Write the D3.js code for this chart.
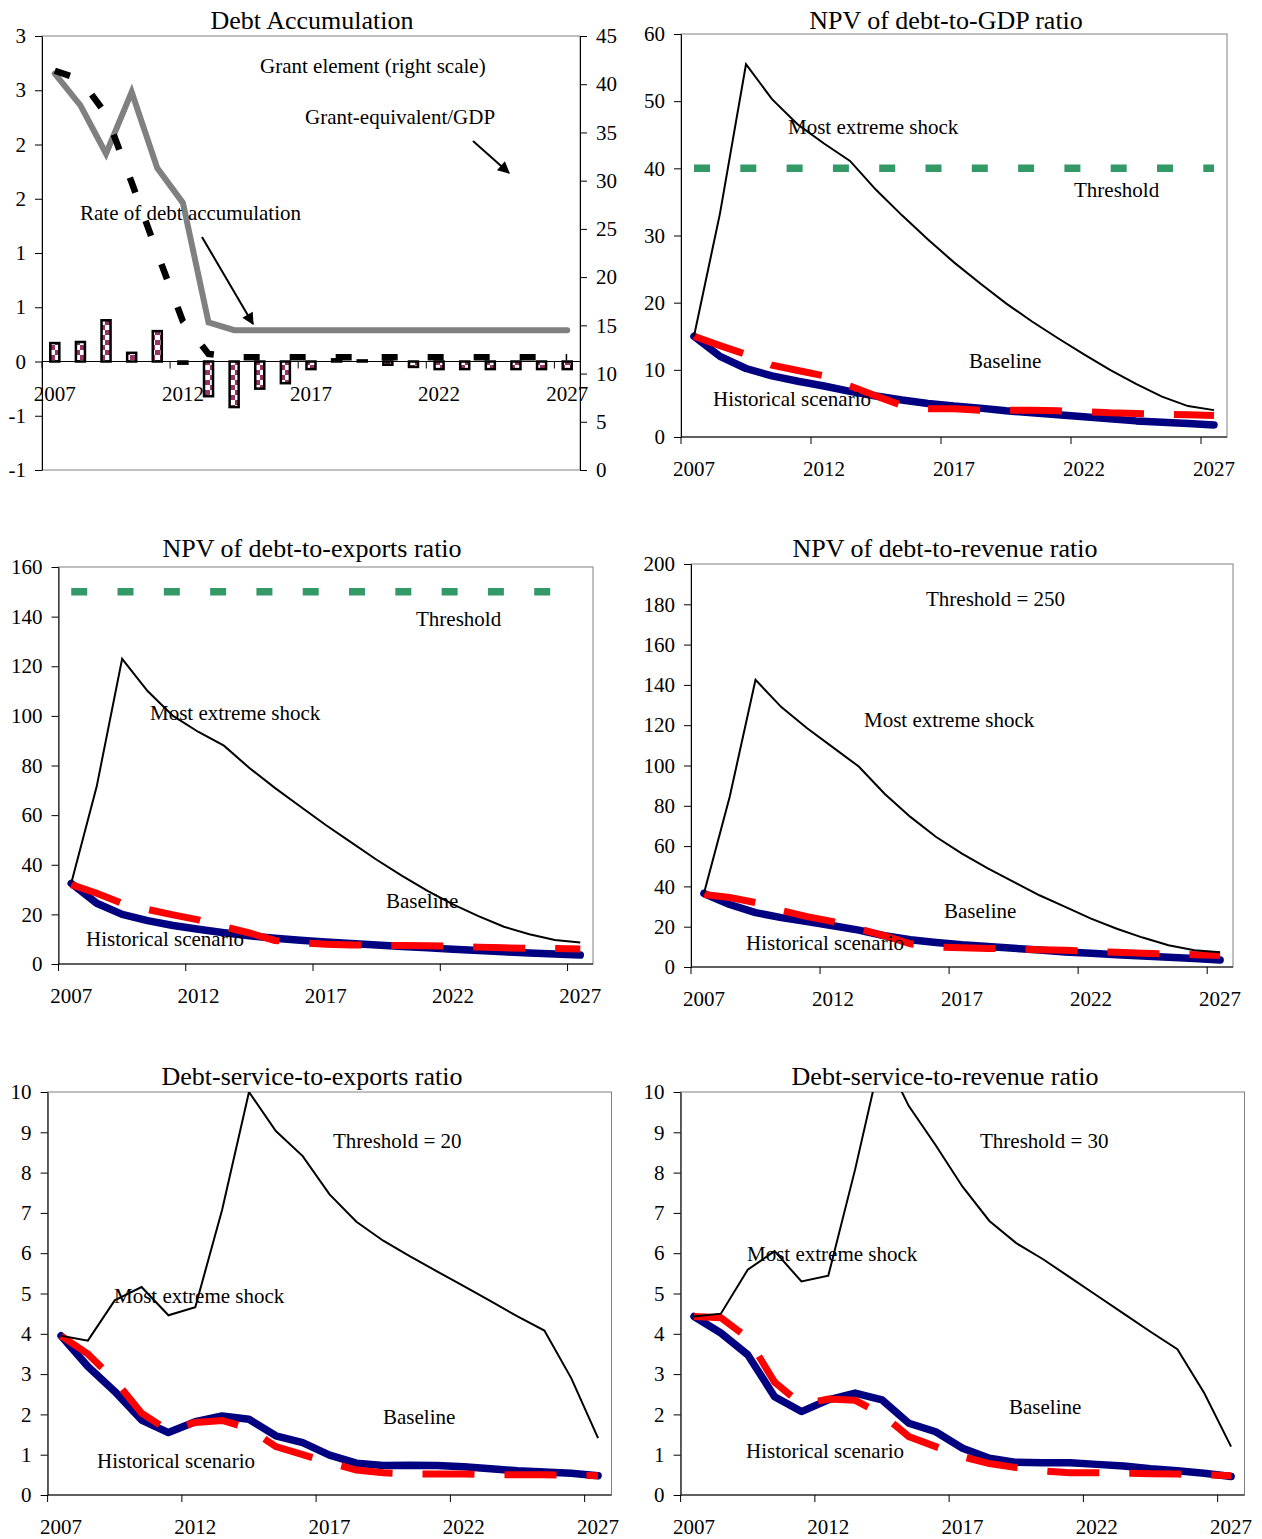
<!DOCTYPE html>
<html>
<head>
<meta charset="utf-8">
<script src="https://cdn.jsdelivr.net/npm/d3@7"></script>
<style>
  body { margin: 0; background: #fff; }
  text { font-family: "Liberation Serif", "Times New Roman", serif; fill: #000; }
</style>
</head>
<body>
<div id="chart"></div>
<script>
// categories
var years = [2007, 2008, 2009, 2010, 2011, 2012, 2013, 2014, 2015, 2016, 2017,
             2018, 2019, 2020, 2021, 2022, 2023, 2024, 2025, 2026, 2027];
var labelYears = [2007, 2012, 2017, 2022, 2027];

// Debt accumulation (left scale: bars + dashed line, right scale: grant element)
var debtAccumRate = [0.17, 0.18, 0.38, 0.08, 0.28, -0.02, -0.32, -0.42, -0.25, -0.2, -0.07,
                     0.02, 0.01, -0.03, -0.05, -0.07, -0.07, -0.07, -0.07, -0.07, -0.07];
var grantEquivGdp = [2.68, 2.6, 2.28, 1.65, 1.0, 0.37, 0.07, 0.04, 0.04, 0.04, 0.04,
                     0.04, 0.04, 0.04, 0.04, 0.04, 0.04, 0.04, 0.04, 0.04, 0.04];
var grantElement = [41.1, 37.8, 32.8, 39.2, 31.3, 27.7, 15.3, 14.5, 14.5, 14.5, 14.5,
                    14.5, 14.5, 14.5, 14.5, 14.5, 14.5, 14.5, 14.5, 14.5, 14.5];
var accumTicks = [-1, -0.5, 0, 0.5, 1, 1.5, 2, 2.5, 3];
var grantTicks = [0, 5, 10, 15, 20, 25, 30, 35, 40, 45];

// NPV of debt-to-GDP ratio
var gdpShock = [15, 33.3, 55.5, 50.3, 46.5, 43.7, 41.1, 36.8, 33, 29.4, 26,
                22.9, 19.9, 17.2, 14.7, 12.3, 10, 7.9, 6, 4.6, 4.0];
var gdpBaseline = [15, 12, 10.2, 9.1, 8.3, 7.6, 6.8, 6.1, 5.5, 5.0, 4.6,
                   4.3, 3.9, 3.6, 3.3, 3.0, 2.7, 2.4, 2.2, 2.0, 1.8];
var gdpHistorical = [15, 13.6, 12.3, 10.7, 9.9, 9.1, 7.6, 6.1, 4.7, 4.2, 4.2,
                     4.0, 4.0, 4.0, 3.9, 3.8, 3.6, 3.5, 3.4, 3.3, 3.2];
var gdpThreshold = 40;
var gdpTicks = [0, 10, 20, 30, 40, 50, 60];

// NPV of debt-to-exports ratio
var expShock = [32.5, 71.5, 123, 110, 100, 93.5, 88, 79, 71, 63.5, 56,
                49, 42, 35.5, 29.5, 24, 19.3, 15, 12, 9.7, 8.7];
var expBaseline = [32.5, 24.5, 20, 17.5, 15.5, 14, 12.6, 11.4, 10.4, 9.6, 8.9,
                   8.3, 7.7, 7.1, 6.5, 5.9, 5.4, 4.9, 4.4, 4.0, 3.6];
var expHistorical = [32, 28.5, 24.5, 22, 19.8, 17.8, 15, 12.5, 9.5, 8.5, 8.0,
                     7.7, 7.5, 7.5, 7.4, 7.2, 6.8, 6.5, 6.3, 6.2, 6.0];
var expThreshold = 150;
var expTicks = [0, 20, 40, 60, 80, 100, 120, 140, 160];

// NPV of debt-to-revenue ratio
var revShock = [36.5, 84.5, 142.5, 129, 118.5, 109, 99.5, 86, 74.5, 64.5, 56.3,
                49, 42.3, 35.6, 29.8, 24, 19, 14.6, 10.8, 8.3, 7.3];
var revBaseline = [36.5, 31, 27, 24.5, 22.5, 20.5, 18.3, 15.5, 13.5, 12.2, 11,
                   10.2, 9.3, 8.4, 7.5, 6.8, 6.1, 5.4, 4.8, 4.2, 3.5];
var revHistorical = [36, 34.5, 32, 28, 25, 22.5, 19, 15.5, 11.5, 10, 9.5,
                     9.2, 9, 8.6, 8.3, 7.8, 7.3, 6.8, 6.4, 6.1, 5.8];
var revTicks = [0, 20, 40, 60, 80, 100, 120, 140, 160, 180, 200];

// Debt-service-to-exports ratio
var dsExpShock = [3.95, 3.83, 4.83, 5.16, 4.46, 4.66, 7.08, 10.0, 9.03, 8.41, 7.46,
                  6.78, 6.31, 5.92, 5.55, 5.18, 4.81, 4.43, 4.08, 2.9, 1.41];
var dsExpBaseline = [3.95, 3.19, 2.57, 1.86, 1.55, 1.82, 1.96, 1.88, 1.47, 1.30, 0.99,
                     0.79, 0.73, 0.74, 0.73, 0.70, 0.65, 0.60, 0.57, 0.54, 0.48];
var dsExpHistorical = [3.95, 3.5, 2.85, 2.03, 1.6, 1.8, 1.85, 1.65, 1.2, 1.0, 0.8,
                       0.62, 0.55, 0.52, 0.52, 0.52, 0.5, 0.5, 0.5, 0.49, 0.48];

// Debt-service-to-revenue ratio
var dsRevShock = [4.43, 4.5, 5.59, 6.05, 5.3, 5.44, 8.08, 11.0, 9.65, 8.68, 7.65,
                  6.8, 6.25, 5.85, 5.4, 4.95, 4.5, 4.05, 3.62, 2.53, 1.2];
var dsRevBaseline = [4.43, 4.02, 3.48, 2.44, 2.07, 2.36, 2.53, 2.36, 1.78, 1.57, 1.16,
                     0.91, 0.81, 0.8, 0.8, 0.76, 0.72, 0.65, 0.6, 0.54, 0.46];
var dsRevHistorical = [4.43, 4.4, 3.9, 2.8, 2.25, 2.38, 2.35, 2.0, 1.45, 1.2, 0.95,
                       0.78, 0.68, 0.6, 0.55, 0.55, 0.54, 0.53, 0.52, 0.5, 0.48];
var dsTicks = [0, 1, 2, 3, 4, 5, 6, 7, 8, 9, 10];

var svg = d3.select("#chart")
  .append("svg")
  .attr("width", 1262)
  .attr("height", 1539);

var defs = svg.append("defs");

// checkered fill for the debt accumulation bars
var pat = defs.append("pattern")
  .attr("id", "checks")
  .attr("patternUnits", "userSpaceOnUse")
  .attr("width", 10)
  .attr("height", 10);
pat.append("rect").attr("width", 10).attr("height", 10).attr("fill", "#993366");
pat.append("rect").attr("width", 5).attr("height", 5).attr("fill", "#fff");
pat.append("rect").attr("x", 5).attr("y", 5).attr("width", 5).attr("height", 5).attr("fill", "#fff");

defs.append("marker")
  .attr("id", "arrow")
  .attr("viewBox", "0 0 10 10")
  .attr("refX", 9)
  .attr("refY", 5)
  .attr("markerWidth", 7.5)
  .attr("markerHeight", 6)
  .attr("orient", "auto")
  .append("path")
  .attr("d", "M0,0L10,5L0,10z")
  .attr("fill", "#000");

function addText(g, str, x, y, size, anchor) {
  return g.append("text")
    .attr("x", x)
    .attr("y", y)
    .attr("font-size", size)
    .attr("text-anchor", anchor || "start")
    .text(str);
}

// frame, y axis, x ticks and labels for one panel
function drawFrame(g, box, x, y, ticks, zeroY) {
  g.append("rect")
    .attr("x", box.left).attr("y", box.top)
    .attr("width", box.right - box.left).attr("height", box.bottom - box.top)
    .attr("fill", "none").attr("stroke", "#808080").attr("stroke-width", 1);

  var leftAxis = d3.axisLeft(y)
    .tickValues(ticks)
    .tickSize(7)
    .tickPadding(9)
    .tickSizeOuter(0)
    .tickFormat(d => d.toFixed(0));

  g.append("g")
    .attr("transform", `translate(${box.left},0)`)
    .call(leftAxis)
    .call(a => a.attr("font-family", null).attr("font-size", null))
    .call(a => a.selectAll("text").attr("font-size", 21).attr("fill", "#000"));

  var axisY = zeroY == null ? box.bottom : zeroY;
  g.append("line")
    .attr("x1", box.left).attr("x2", box.right)
    .attr("y1", axisY).attr("y2", axisY)
    .attr("stroke", "#000").attr("stroke-width", 1);

  g.selectAll(".xtick")
    .data(labelYears)
    .enter()
    .append("line")
    .attr("x1", d => x(d)).attr("x2", d => x(d))
    .attr("y1", axisY).attr("y2", axisY + 7)
    .attr("stroke", "#000");

  g.selectAll(".xlab")
    .data(labelYears)
    .enter()
    .append("text")
    .attr("x", d => x(d) + x.bandwidth() / 2)
    .attr("y", axisY + 39)
    .attr("font-size", 21)
    .attr("text-anchor", "middle")
    .text(d => d);
}

// ===== Debt Accumulation =====
(function() {
  var box = {left: 42, right: 580, top: 36, bottom: 470};
  var g = svg.append("g");
  var x = d3.scaleBand().domain(years).range([box.left, box.right]);
  var xBar = d3.scaleBand().domain(years).range([box.left, box.right])
    .paddingInner(0.55).paddingOuter(0.275);
  var yL = d3.scaleLinear().domain([-1, 3]).range([box.bottom, box.top]);
  var yR = d3.scaleLinear().domain([0, 45]).range([box.bottom, box.top]);
  var cx = d => x(d) + x.bandwidth() / 2;

  addText(g, "Debt Accumulation", 312, 29, 26, "middle");
  drawFrame(g, box, x, yL, accumTicks, yL(0));

  var rightAxis = d3.axisRight(yR)
    .tickValues(grantTicks)
    .tickSize(7)
    .tickPadding(9)
    .tickSizeOuter(0);
  g.append("g")
    .attr("transform", `translate(${box.right},0)`)
    .call(rightAxis)
    .call(a => a.attr("font-family", null).attr("font-size", null))
    .call(a => a.selectAll("text").attr("font-size", 21).attr("fill", "#000"));

  var rows = years.map((yr, i) => ({year: yr, rate: debtAccumRate[i],
    equiv: grantEquivGdp[i], grant: grantElement[i]}));

  g.selectAll(".bar")
    .data(rows)
    .enter()
    .append("rect")
    .attr("x", d => xBar(d.year) + 1.25)
    .attr("width", xBar.bandwidth() - 2.5)
    .attr("y", d => yL(Math.max(0, d.rate)))
    .attr("height", d => Math.abs(yL(d.rate) - yL(0)))
    .attr("fill", "url(#checks)")
    .attr("stroke", "#000")
    .attr("stroke-width", 2.5);

  g.append("path")
    .datum(rows)
    .attr("d", d3.line().x(d => cx(d.year)).y(d => yR(d.grant)))
    .attr("fill", "none")
    .attr("stroke", "#808080")
    .attr("stroke-width", 6)
    .attr("stroke-linecap", "round");

  g.append("path")
    .datum(rows)
    .attr("d", d3.line().x(d => cx(d.year)).y(d => yL(d.equiv)))
    .attr("fill", "none")
    .attr("stroke", "#000")
    .attr("stroke-width", 6.5)
    .attr("stroke-dasharray", "16,30");

  addText(g, "Grant element (right scale)", 260, 73, 21);
  addText(g, "Grant-equivalent/GDP", 305, 124, 21);
  addText(g, "Rate of debt accumulation", 80, 220, 21);

  var arrows = [[[473, 141], [509, 173]], [[202, 237], [253, 324]]];
  arrows.forEach(function(a) {
    g.append("line")
      .attr("x1", a[0][0]).attr("y1", a[0][1])
      .attr("x2", a[1][0]).attr("y2", a[1][1])
      .attr("stroke", "#000")
      .attr("stroke-width", 2)
      .attr("marker-end", "url(#arrow)");
  });
})();

// ===== ratio panels =====
var panels = [
  {title: "NPV of debt-to-GDP ratio", titleX: 946, titleY: 29,
   box: {left: 681, right: 1227, top: 34, bottom: 437}, yMax: 60, ticks: gdpTicks,
   shock: gdpShock, base: gdpBaseline, hist: gdpHistorical, threshold: gdpThreshold,
   notes: [["Most extreme shock", 788, 134], ["Threshold", 1074, 197],
           ["Baseline", 969, 368], ["Historical scenario", 713, 406]]},
  {title: "NPV of debt-to-exports ratio", titleX: 312, titleY: 557,
   box: {left: 58.5, right: 593, top: 567, bottom: 964}, yMax: 160, ticks: expTicks,
   shock: expShock, base: expBaseline, hist: expHistorical, threshold: expThreshold,
   notes: [["Threshold", 416, 626], ["Most extreme shock", 150, 720],
           ["Baseline", 386, 908], ["Historical scenario", 86, 946]]},
  {title: "NPV of debt-to-revenue ratio", titleX: 945, titleY: 557,
   box: {left: 691, right: 1233, top: 564, bottom: 967}, yMax: 200, ticks: revTicks,
   shock: revShock, base: revBaseline, hist: revHistorical, threshold: null,
   notes: [["Threshold = 250", 926, 606], ["Most extreme shock", 864, 727],
           ["Baseline", 944, 918], ["Historical scenario", 746, 950]]},
  {title: "Debt-service-to-exports ratio", titleX: 312, titleY: 1085,
   box: {left: 47.6, right: 611.5, top: 1092, bottom: 1495}, yMax: 10, ticks: dsTicks,
   shock: dsExpShock, base: dsExpBaseline, hist: dsExpHistorical, threshold: null,
   notes: [["Threshold = 20", 333, 1148], ["Most extreme shock", 114, 1303],
           ["Baseline", 383, 1424], ["Historical scenario", 97, 1468]]},
  {title: "Debt-service-to-revenue ratio", titleX: 945, titleY: 1085,
   box: {left: 680.6, right: 1244.5, top: 1092, bottom: 1495}, yMax: 10, ticks: dsTicks,
   shock: dsRevShock, base: dsRevBaseline, hist: dsRevHistorical, threshold: null,
   notes: [["Threshold = 30", 980, 1148], ["Most extreme shock", 747, 1261],
           ["Baseline", 1009, 1414], ["Historical scenario", 746, 1458]]}
];

panels.forEach(function(p, k) {
  var box = p.box;
  var g = svg.append("g");
  var x = d3.scaleBand().domain(years).range([box.left, box.right]);
  var y = d3.scaleLinear().domain([0, p.yMax]).range([box.bottom, box.top]);
  var cx = d => x(d) + x.bandwidth() / 2;

  addText(g, p.title, p.titleX, p.titleY, 26, "middle");
  drawFrame(g, box, x, y, p.ticks, null);

  defs.append("clipPath")
    .attr("id", "clip" + k)
    .append("rect")
    .attr("x", box.left).attr("y", box.top)
    .attr("width", box.right - box.left).attr("height", box.bottom - box.top);

  var plot = g.append("g").attr("clip-path", `url(#clip${k})`);
  var line = d3.line().x((d, i) => cx(years[i])).y(d => y(d));

  plot.append("path")
    .datum(p.base)
    .attr("d", line)
    .attr("fill", "none")
    .attr("stroke", "#000080")
    .attr("stroke-width", 7.5)
    .attr("stroke-linecap", "round")
    .attr("stroke-linejoin", "round");

  plot.append("path")
    .datum(p.hist)
    .attr("d", line)
    .attr("fill", "none")
    .attr("stroke", "#ff0000")
    .attr("stroke-width", 7)
    .attr("stroke-dasharray", "52,30");

  plot.append("path")
    .datum(p.shock)
    .attr("d", line)
    .attr("fill", "none")
    .attr("stroke", "#000")
    .attr("stroke-width", 2);

  if (p.threshold != null) {
    plot.append("path")
      .datum(years.map(() => p.threshold))
      .attr("d", line)
      .attr("fill", "none")
      .attr("stroke", "#339966")
      .attr("stroke-width", 7.5)
      .attr("stroke-dasharray", "16,30.3");
  }

  p.notes.forEach(n => addText(g, n[0], n[1], n[2], 21));
});
</script>
</body>
</html>
